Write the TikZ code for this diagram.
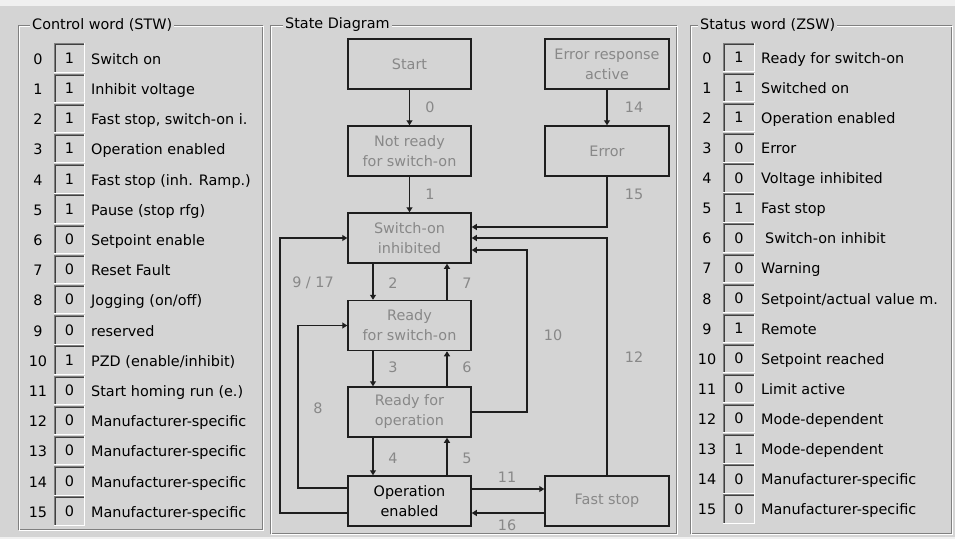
\documentclass[tikz,border=0pt]{standalone}
\usepackage{fontspec}
\setmainfont{DejaVu Sans}
\usetikzlibrary{arrows.meta,calc}
\definecolor{bg}{RGB}{212,212,212}
\definecolor{band}{RGB}{240,240,240}
\definecolor{framegray}{RGB}{128,128,128}
\definecolor{deepgray}{RGB}{64,64,64}
\definecolor{dimtext}{RGB}{136,136,136}
\definecolor{edgecol}{RGB}{30,30,30}
\newcommand\sunkenbox[1]{%
  \draw[line width=1pt,framegray] ([xshift=.5pt]#1.south west) -- ([xshift=.5pt,yshift=-.5pt]#1.north west) -- ([yshift=-.5pt]#1.north east);
  \draw[line width=1pt,deepgray] ([xshift=1.5pt]#1.south west) -- ([xshift=1.5pt,yshift=-1.5pt]#1.north west) -- ([xshift=-1pt,yshift=-1.5pt]#1.north east);
  \draw[line width=1pt,white] ([xshift=-.5pt]#1.north east) -- ([xshift=-.5pt,yshift=.5pt]#1.south east) -- ([yshift=.5pt]#1.south west);
}
\newcommand\lrow[3]{%
  \node[bitnum] (ln#1) at (38,{59+30.2*#1}) {#1};
  \node[valbox,minimum width=31pt] (lb#1) at (69.5,{58+30.2*#1}) {#2};
  \node[bitlbl] (lt#1) at (91,{59+30.2*#1}) {#3};
  \sunkenbox{lb#1}
}
\newcommand\rrow[3]{%
  \node[bitnum] (rn#1) at (707,{58+30.1*#1}) {#1};
  \node[valbox,minimum width=32pt] (rb#1) at (739,{57.5+30.1*#1}) {#2};
  \node[bitlbl] (rt#1) at (761,{58+30.1*#1}) {#3};
  \sunkenbox{rb#1}
}
\begin{document}
\begin{tikzpicture}[x=1pt,y=-1pt,
  every node/.style={font=\fontsize{14.4}{20}\selectfont},
  bitnum/.style={inner sep=0pt,text height=10.5pt,text depth=0pt},
  valbox/.style={inner sep=0pt,minimum height=29pt,text height=10.5pt,text depth=0pt},
  bitlbl/.style={anchor=west,inner sep=0pt,text height=10.5pt,text depth=3pt,yshift=-1.5pt},
  grouptitle/.style={anchor=west,fill=bg,inner xsep=2pt,inner ysep=1pt},
  state/.style={draw=edgecol,line width=1.5pt,minimum width=123pt,minimum height=50pt,align=center,text=dimtext,inner sep=0pt},
  arr/.style={draw=edgecol,line width=1.3pt,-{Triangle[length=5pt,width=6pt]}},
  lbl/.style={text=dimtext,inner sep=0pt}]
\useasboundingbox (0,0) rectangle (955,539);
\fill[bg] (0,0) rectangle (955,539);
\fill[band] (0,0) rectangle (955,6);
\fill[band] (0,537) rectangle (955,539);
% group frames
\draw[framegray,line width=1pt] (18,25) rectangle (262,529);
\draw[white,line width=1pt] (19,26) rectangle (263,530);
\draw[framegray,line width=1pt] (270,25) rectangle (676,533);
\draw[white,line width=1pt] (271,26) rectangle (677,534);
\draw[framegray,line width=1pt] (690,25) rectangle (951,533);
\draw[white,line width=1pt] (691,26) rectangle (952,534);
\node[grouptitle] (tl) at (30,25) {Control word (STW)};
\node[grouptitle] (tc) at (283,25) {State Diagram};
\node[grouptitle] (tr) at (698,25) {Status word (ZSW)};
% control word
\lrow{0}{1}{Switch on}
\lrow{1}{1}{Inhibit voltage}
\lrow{2}{1}{Fast stop, switch-on i.}
\lrow{3}{1}{Operation enabled}
\lrow{4}{1}{Fast stop (inh. Ramp.)}
\lrow{5}{1}{Pause (stop rfg)}
\lrow{6}{0}{Setpoint enable}
\lrow{7}{0}{Reset Fault}
\lrow{8}{0}{Jogging (on/off)}
\lrow{9}{0}{reserved}
\lrow{10}{1}{PZD (enable/inhibit)}
\lrow{11}{0}{Start homing run (e.)}
\lrow{12}{0}{Manufacturer-specific}
\lrow{13}{0}{Manufacturer-specific}
\lrow{14}{0}{Manufacturer-specific}
\lrow{15}{0}{Manufacturer-specific}
% status word
\rrow{0}{1}{Ready for switch-on}
\rrow{1}{1}{Switched on}
\rrow{2}{1}{Operation enabled}
\rrow{3}{0}{Error}
\rrow{4}{0}{Voltage inhibited}
\rrow{5}{1}{Fast stop}
\rrow{6}{0}{\hspace{4pt}Switch-on inhibit}
\rrow{7}{0}{Warning}
\rrow{8}{0}{Setpoint/actual value m.}
\rrow{9}{1}{Remote}
\rrow{10}{0}{Setpoint reached}
\rrow{11}{0}{Limit active}
\rrow{12}{0}{Mode-dependent}
\rrow{13}{1}{Mode-dependent}
\rrow{14}{0}{Manufacturer-specific}
\rrow{15}{0}{Manufacturer-specific}
% states
\node[state] (start) at (409.5,64) {Start};
\node[state,minimum width=124pt] (errresp) at (607,64) {Error response\\active};
\node[state] (notready) at (409.5,151) {Not ready\\for switch-on};
\node[state,minimum width=124pt] (error) at (607,151) {Error};
\node[state] (soi) at (409.5,238) {Switch-on\\inhibited};
\node[state] (rfs) at (409.5,325.5) {Ready\\for switch-on};
\node[state] (rfo) at (409.5,412) {Ready for\\operation};
\node[state,text=black] (opena) at (409.5,501) {Operation\\enabled};
\node[state,minimum width=124pt] (fast) at (607,501) {Fast stop};
% transitions
\draw[arr] (start) -- (notready);
\draw[arr] (errresp) -- (error);
\draw[arr] (notready) -- (soi);
\draw[arr] (error.south) |- ([yshift=11pt]soi.east);
\draw[arr] (fast.north) |- (soi.east);
\coordinate (k10) at (527,412);
\draw[arr] (rfo.east) -- (k10) |- ([yshift=-12pt]soi.east);
\coordinate (k917) at (280,513);
\draw[arr] ([yshift=-12pt]opena.west) -- (k917) |- (soi.west);
\coordinate (k8) at (298,488);
\draw[arr] ([yshift=13pt]opena.west) -- (k8) |- (rfs.west);
\draw[arr] ([xshift=-36.5pt]soi.south) -- ([xshift=-36.5pt]rfs.north);
\draw[arr] ([xshift=37.5pt]rfs.north) -- ([xshift=37.5pt]soi.south);
\draw[arr] ([xshift=-36.5pt]rfs.south) -- ([xshift=-36.5pt]rfo.north);
\draw[arr] ([xshift=37.5pt]rfo.north) -- ([xshift=37.5pt]rfs.south);
\draw[arr] ([xshift=-36.5pt]rfo.south) -- ([xshift=-36.5pt]opena.north);
\draw[arr] ([xshift=37.5pt]opena.north) -- ([xshift=37.5pt]rfo.south);
\draw[arr] ([yshift=12pt]opena.east) -- ([yshift=12pt]fast.west);
\draw[arr] ([yshift=-12pt]fast.west) -- ([yshift=-12pt]opena.east);
% transition labels
\node[lbl] (l0) at (430,107) {0};
\node[lbl] (l14) at (634,107) {14};
\node[lbl] (l1) at (430,194) {1};
\node[lbl] (l15) at (634,194) {15};
\node[lbl] (l917) at (313,283) {9 / 17};
\node[lbl] (l2) at (393,283) {2};
\node[lbl] (l7) at (467,283) {7};
\node[lbl] (l10) at (553,335) {10};
\node[lbl] (l12) at (634,357) {12};
\node[lbl] (l3) at (393,367) {3};
\node[lbl] (l6) at (467,367) {6};
\node[lbl] (l8) at (318,408) {8};
\node[lbl] (l4) at (393,458) {4};
\node[lbl] (l5) at (467,458) {5};
\node[lbl] (l11) at (507,477) {11};
\node[lbl] (l16) at (507,525) {16};
\end{tikzpicture}
\end{document}
